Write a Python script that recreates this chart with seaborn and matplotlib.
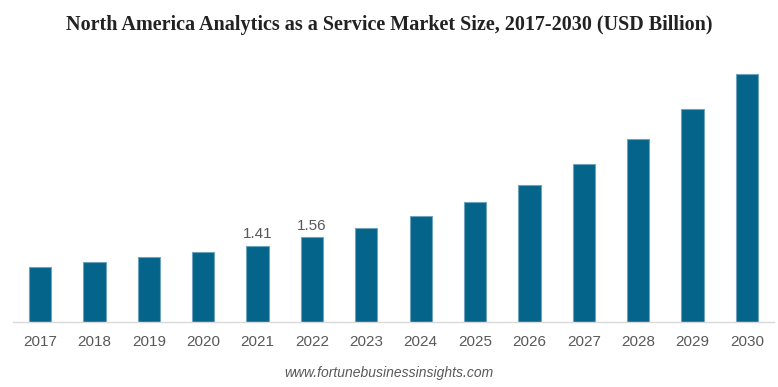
import matplotlib
matplotlib.use("Agg")
import matplotlib.pyplot as plt
import seaborn as sns
import pandas as pd

years = ["2017", "2018", "2019", "2020", "2021", "2022", "2023",
         "2024", "2025", "2026", "2027", "2028", "2029", "2030"]
values = [1.01, 1.10, 1.19, 1.29, 1.41, 1.56, 1.73,
          1.95, 2.21, 2.52, 2.91, 3.37, 3.92, 4.57]
labeled_years = ["2021", "2022"]

df = pd.DataFrame({"year": years, "value": values})

sns.set_style("white")
plt.rcParams["font.family"] = ["Liberation Sans", "DejaVu Sans"]

fig = plt.figure(figsize=(7.78, 3.87), dpi=100)
ax = fig.add_axes([13/778, 1 - 322/387, 761/778, 262/387])

sns.barplot(data=df, x="year", y="value", color="#056489", saturation=1,
            width=0.41, edgecolor="#6fa3bb", linewidth=0.8, ax=ax)

ax.set_ylim(0, 4.83)
ax.set_xlim(-0.5, len(years) - 0.5)
ax.set_xlabel("")
ax.set_ylabel("")
ax.set_yticks([])
for s in ["top", "right", "left"]:
    ax.spines[s].set_visible(False)
ax.spines["bottom"].set_color("#d9d9d9")
ax.spines["bottom"].set_linewidth(1.0)
ax.tick_params(axis="x", length=0, pad=9, labelsize=11, labelcolor="#595959")

for i, (y, v) in enumerate(zip(years, values)):
    if y in labeled_years:
        ax.annotate(f"{v:.2f}", (i, v), xytext=(0, 3), textcoords="offset points",
                    ha="center", va="bottom", fontsize=11, color="#595959")

fig.text(0.5, 1 - 25/387, "North America Analytics as a Service Market Size, 2017-2030 (USD Billion)",
         ha="center", va="center", fontsize=14.5, fontweight="bold",
         family=["Liberation Serif", "DejaVu Serif"], color="#222222")
fig.text(0.5, 1 - 373/387, "www.fortunebusinessinsights.com", ha="center", va="center",
         fontsize=10, style="italic", color="#595959")

fig.savefig("out.png", dpi=100, facecolor="white")
